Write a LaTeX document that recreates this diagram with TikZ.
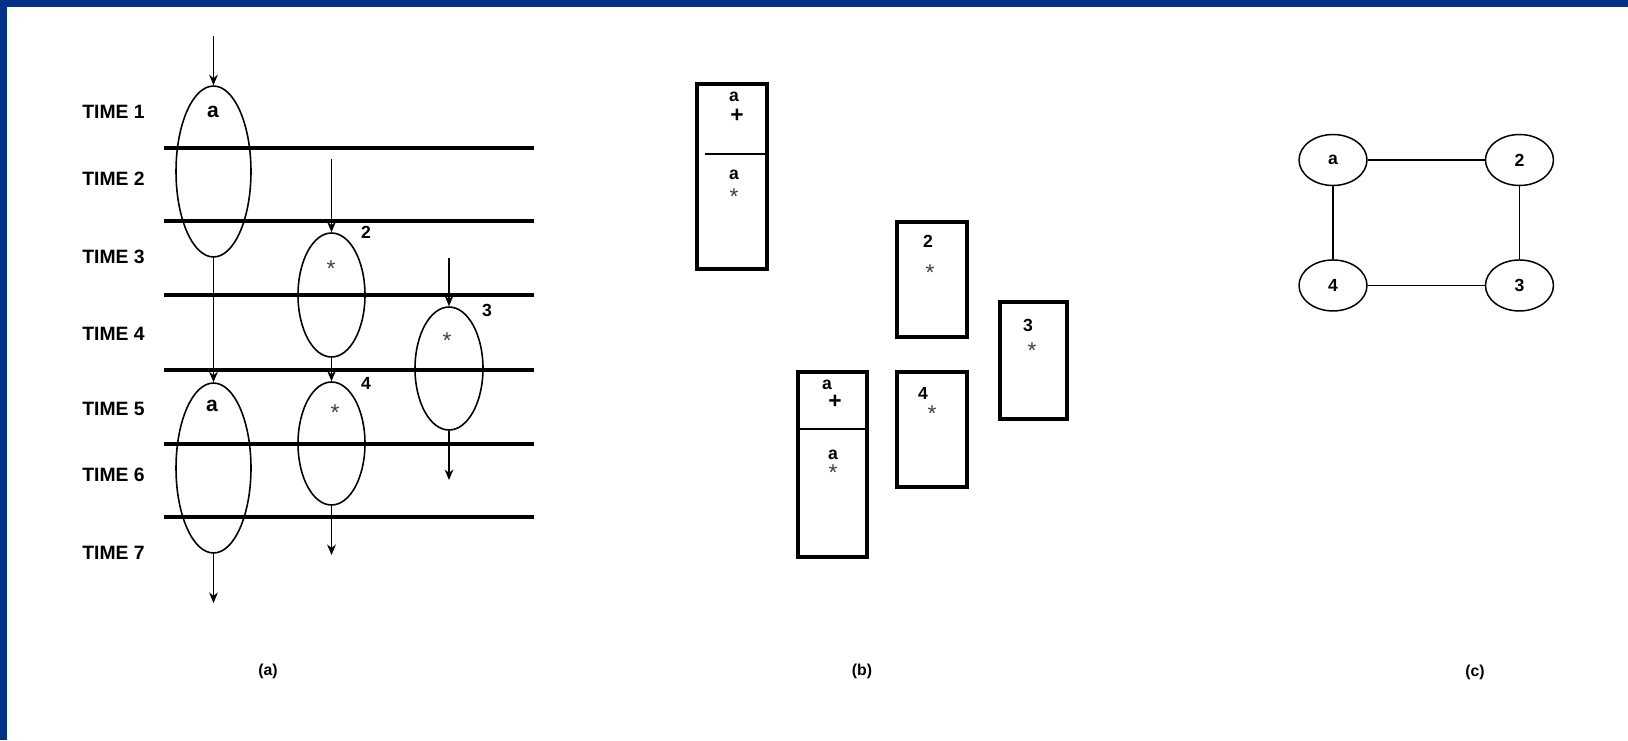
\documentclass[tikz,border=0pt]{standalone}
\usepackage{fontspec}
\setmainfont{Liberation Sans}
\usetikzlibrary{arrows.meta, positioning}
\usetikzlibrary{shapes.geometric}
\definecolor{frameblue}{RGB}{0,48,135}

\begin{document}
\begin{tikzpicture}[
    x=0.02cm, y=-0.02cm, % one unit is one pixel, y runs downwards
    timeline/.style={line width=2pt},
    timelabel/.style={anchor=west, inner sep=0, font=\bfseries\fontsize{11}{13}\selectfont},
    var/.style={ellipse, draw, line width=0.9pt, inner sep=0},
    tag/.style={inner sep=0, font=\bfseries\fontsize{12}{14}\selectfont},
    num/.style={inner sep=0, font=\bfseries\fontsize{10}{12}\selectfont},
    plus/.style={inner sep=0, font=\bfseries\fontsize{13}{15}\selectfont},
    startag/.style={anchor=north, inner sep=0, text=black!75, font=\fontsize{13}{15}\selectfont},
    flow/.style={draw, line width=0.85pt, -{Stealth[length=6pt, width=5pt]}},
    reg/.style={draw, rectangle, line width=2.2pt, inner sep=0},
    vertex/.style={ellipse, draw, line width=0.85pt, minimum width=1.36cm, minimum height=1.02cm, inner sep=0, font=\bfseries\fontsize{10}{12}\selectfont},
    edge/.style={draw, line width=0.8pt},
    caption/.style={inner sep=0, font=\bfseries\fontsize{9}{11}\selectfont}
]
\useasboundingbox (0,0) rectangle (1628,740);
% frame
\fill[frameblue] (0,0) rectangle (1628,7);
\fill[frameblue] (0,0) rectangle (7,740);

% (a) time steps
\foreach \y in {148,221,295,370,444,517}
    \draw[timeline] (164,\y) -- (534,\y);
\foreach \t/\y in {1/112,2/179,3/257,4/334,5/409,6/475,7/553}
    \node[timelabel] (time\t) at (82,\y) {TIME \t};

% live ranges
\node[var, minimum width=1.5cm, minimum height=3.42cm] (a1) at (213.5,171.5) {};
\node[var, minimum width=1.5cm, minimum height=3.4cm] (a2) at (213.5,468) {};
\node[var, minimum width=1.34cm, minimum height=2.48cm] (v2) at (331.5,295) {};
\node[var, minimum width=1.34cm, minimum height=2.46cm] (v4) at (331.5,443.5) {};
\node[var, minimum width=1.36cm, minimum height=2.46cm] (v3) at (449,368.5) {};

\node[tag] (a1lbl) at (213,112) {a};
\node[tag] (a2lbl) at (212,406) {a};
\node[num] (v2lbl) at (366,232) {2};
\node[num] (v3lbl) at (487,310) {3};
\node[num] (v4lbl) at (366,383) {4};
\node[startag] (v2op) at (331,260) {*};
\node[startag] (v3op) at (447,332) {*};
\node[startag] (v4op) at (335,404) {*};

% ends of the flow arrows
\coordinate (a1in) at (213.5,36);
\coordinate (v2in) at (331.5,159);
\coordinate (v3in) at (449,258);
\coordinate (a2out) at (213.5,603);
\coordinate (v4out) at (331.5,555);
\coordinate (v3out) at (449,480);

\path[flow] (a1in) -- (a1.north);
\path[flow] (v2in) -- (v2.north);
\path[flow] (v3in) -- (v3.north);
\path[flow] (a1.south) -- (a2.north);
\path[flow] (v2.south) -- (v4.north);
\path[flow] (a2.south) -- (a2out);
\path[flow] (v4.south) -- (v4out);
\path[flow] (v3.south) -- (v3out);

\node[caption] (capa) at (268,671) {(a)};

% (b) registers
\node[reg, minimum width=1.4cm, minimum height=3.7cm] (rega1) at (732,176.5) {};
\node[reg, minimum width=1.4cm, minimum height=2.3cm] (reg2) at (932,279.5) {};
\node[reg, minimum width=1.34cm, minimum height=2.34cm] (reg3) at (1033.5,360.5) {};
\node[reg, minimum width=1.4cm, minimum height=2.3cm] (reg4) at (932,429.5) {};
\node[reg, minimum width=1.38cm, minimum height=3.7cm] (rega2) at (832.5,464.5) {};

\draw[line width=1.4pt] (705,154) -- (rega1.east |- 0,154);
\draw[line width=1.4pt] (rega2.west |- 0,429) -- (865,429);

\node[num] (ra1a) at (734,97) {a};
\node[plus] (ra1p) at (737,116) {+};
\node[num] (ra1b) at (734,175) {a};
\node[startag] (ra1s) at (734,188) {*};

\node[num] (ra2a) at (827,385) {a};
\node[plus] (ra2p) at (835,402) {+};
\node[num] (ra2b) at (833,455) {a};
\node[startag] (ra2s) at (833,464) {*};

\node[num] (r2n) at (928,241) {2};
\node[startag] (r2s) at (930,264) {*};
\node[num] (r3n) at (1028,325) {3};
\node[startag] (r3s) at (1032,342) {*};
\node[num] (r4n) at (923,393) {4};
\node[startag] (r4s) at (932,405) {*};

\node[caption] (capb) at (862,671) {(b)};

% (c) interference graph
\node[vertex] (na) at (1333,160) {a};
\node[vertex, right=2.34cm of na] (n2) {2};
\node[vertex, below=1.46cm of na] (n4) {4};
\node[vertex, below=1.46cm of n2] (n3) {3};

\path[edge] (na) -- (n2);
\path[edge] (n2) -- (n3);
\path[edge] (n3) -- (n4);
\path[edge] (n4) -- (na);

\node[caption] (capc) at (1475,672) {(c)};

\end{tikzpicture}
\end{document}
